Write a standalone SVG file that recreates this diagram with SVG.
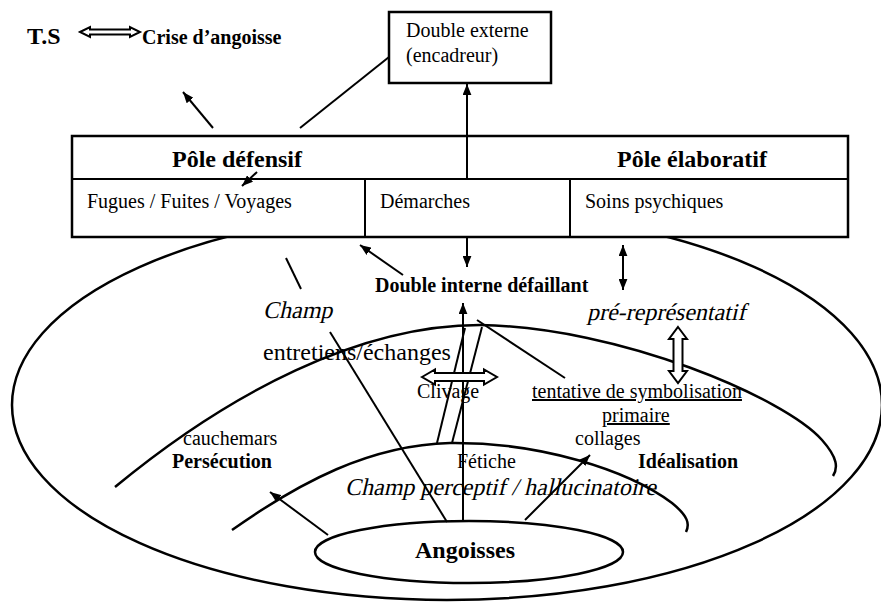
<svg xmlns="http://www.w3.org/2000/svg" width="881" height="604" viewBox="0 0 881 604">
<style>
text{font-family:"Liberation Serif","Times New Roman",serif;fill:#000}
.r{font-size:20px}
.rl{font-size:24px}
.b{font-size:20px;font-weight:bold}
.bb{font-size:24px;font-weight:bold}
.i{font-size:24px}
.l{fill:none;stroke:#000;stroke-width:2}
.c{fill:none;stroke:#000;stroke-width:2.5}
.box{fill:#fff;stroke:#000;stroke-width:2.5}
.ho{fill:#fff;stroke:#000;stroke-width:2}
</style>
<defs>
<marker id="ah" viewBox="0 0 10 8" refX="10" refY="4" markerWidth="11" markerHeight="9" orient="auto-start-reverse" markerUnits="userSpaceOnUse"><path d="M0,0 L10,4 L0,8 z" fill="#000"/></marker>
</defs>
<rect width="881" height="604" fill="#fff"/>

<g id="outer-field">
<ellipse class="c" cx="447" cy="405" rx="435" ry="195"/>
</g>
<g id="field-arcs">
<path class="c" d="M115,487 C230,392 360,325 480,325 C620,327 785,398 822,440 C838,458 838,468 833,476"/>
<path class="c" d="M232,530 C300,482 370,445 450,443 C540,442 628,470 672,503 C688,516 690,524 686,532"/>
</g>

<g id="poles">
<rect class="box" x="72" y="136" width="776" height="101"/>
<line class="l" x1="72" y1="179" x2="848" y2="179" stroke-width="2.5"/>
<line class="l" x1="365" y1="179" x2="365" y2="237" stroke-width="2.5"/>
<line class="l" x1="570" y1="179" x2="570" y2="237" stroke-width="2.5"/>
<text class="bb" x="172" y="167">Pôle défensif</text>
<text class="bb" x="617" y="167">Pôle élaboratif</text>
<text class="r" x="87" y="208">Fugues / Fuites / Voyages</text>
<text class="r" x="380" y="208">Démarches</text>
<text class="r" x="585" y="208">Soins psychiques</text>
</g>

<g id="double-externe">
<rect class="box" x="389" y="12" width="162" height="71"/>
<text class="r" x="406" y="37">Double externe</text>
<text class="r" x="406" y="62">(encadreur)</text>
</g>

<g id="ts">
<text class="bb" x="27" y="44">T.S</text>
<polygon class="ho" points="80,32 90,27 90,29.5 130,29.5 130,27 140,32 130,37 130,34.5 90,34.5 90,37"/>
<text class="b" x="142" y="44">Crise d’angoisse</text>
</g>

<g id="double-interne"><text class="b" x="375" y="292">Double interne défaillant</text></g>
<g id="champ"><text class="i" transform="translate(263,318) skewX(-13)">Champ</text></g>
<g id="pre-representatif"><text class="i" transform="translate(587,320) skewX(-13)">pré-représentatif</text></g>
<g id="entretiens"><text class="rl" x="263" y="360">entretiens/échanges</text></g>
<g id="clivage"><text class="r" x="417" y="398">Clivage</text></g>
<g id="tentative">
<text class="r" x="532" y="398" text-decoration="underline">tentative de symbolisation</text>
<text class="r" x="602" y="422" text-decoration="underline">primaire</text>
</g>
<g id="collages"><text class="r" x="575" y="445">collages</text></g>
<g id="persecution">
<text class="r" x="183" y="445">cauchemars</text>
<text class="b" x="172" y="468">Persécution</text>
</g>
<g id="fetiche"><text class="r" x="457" y="468">Fétiche</text></g>
<g id="idealisation"><text class="b" x="638" y="468">Idéalisation</text></g>
<g id="champ-perceptif"><text class="i" transform="translate(345,495) skewX(-13)">Champ perceptif / hallucinatoire</text></g>
<g id="angoisses">
<ellipse class="c" cx="469" cy="552" rx="154" ry="31"/>
<text class="bb" x="415" y="558">Angoisses</text>
</g>

<g id="connectors">
<line class="l" x1="213" y1="128" x2="183" y2="92" marker-end="url(#ah)"/>
<line class="l" x1="300" y1="128" x2="389" y2="57"/>
<line class="l" x1="467" y1="179" x2="467" y2="84" marker-end="url(#ah)"/>
<line class="l" x1="257" y1="172" x2="242" y2="186" marker-end="url(#ah)"/>
<line class="l" x1="467" y1="237" x2="467" y2="267" marker-end="url(#ah)"/>
<line class="l" x1="403" y1="275" x2="360" y2="245" marker-end="url(#ah)"/>
<line class="l" x1="623" y1="245" x2="623" y2="290" marker-start="url(#ah)" marker-end="url(#ah)"/>
<line class="l" x1="286" y1="258" x2="301" y2="289"/>
<line class="l" x1="330" y1="332" x2="447" y2="522"/>
<line class="l" x1="463" y1="522" x2="463" y2="303" marker-end="url(#ah)"/>
<line class="l" x1="465" y1="328" x2="437" y2="443"/>
<line class="l" x1="482" y1="327" x2="452" y2="443"/>
<line class="l" x1="477" y1="320" x2="565" y2="378"/>
<line class="l" x1="328" y1="535" x2="270" y2="492" marker-end="url(#ah)"/>
<line class="l" x1="525" y1="520" x2="590" y2="455" marker-end="url(#ah)"/>
<polygon class="ho" points="422,377 435,369.5 435,373 484,373 484,369.5 497,377 484,384.5 484,381 435,381 435,384.5"/>
<polygon class="ho" points="678,327 687,339 682.5,339 682.5,371 687,371 678,383 669,371 673.5,371 673.5,339 669,339"/>
</g>
</svg>
